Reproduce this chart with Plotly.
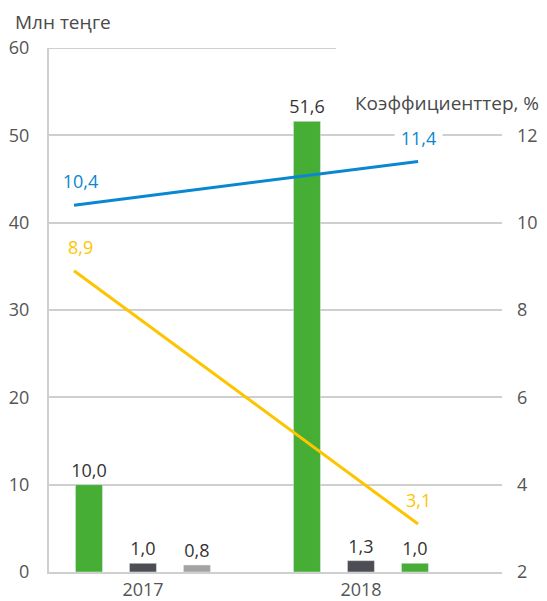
import plotly.graph_objects as go

years = ["2017", "2018"]
bar1 = [10.0, 51.6]
bar2 = [1.0, 1.3]
bar3 = [0.8, 1.0]
blue_line = [10.4, 11.4]
yellow_line = [8.9, 3.1]
left_ticks = [0, 10, 20, 30, 40, 50, 60]
right_ticks = [2, 4, 6, 8, 10, 12]

GREEN = "#46ad35"
DARK = "#4d4e53"
LIGHT = "#a3a3a3"
BLUE = "#0a87d0"
YELLOW = "#fdc500"
GRID = "#cfcfcf"
TICK = "#555555"
FONT = "Open Sans"


def fmt(v):
    return f"{v:.1f}".replace(".", ",")


fig = go.Figure()
common = dict(textposition="outside", constraintext="none", cliponaxis=False,
              textfont=dict(size=18, color="#333333", family=FONT), hoverinfo="skip")
fig.add_trace(go.Bar(x=years, y=bar1, marker_color=GREEN,
                     text=[fmt(v) for v in bar1], **common))
fig.add_trace(go.Bar(x=years, y=bar2, marker_color=DARK,
                     text=[fmt(v) for v in bar2], **common))
fig.add_trace(go.Bar(x=years, y=bar3, marker_color=[LIGHT, GREEN],
                     text=[fmt(v) for v in bar3], **common))

fig.add_trace(go.Scatter(x=years, y=blue_line, mode="lines", xaxis="x2", yaxis="y2",
                         line=dict(color=BLUE, width=3), hoverinfo="skip"))
fig.add_trace(go.Scatter(x=years, y=yellow_line, mode="lines", xaxis="x2", yaxis="y2",
                         line=dict(color=YELLOW, width=3), hoverinfo="skip"))

annotations = []
for i, v in enumerate(blue_line):
    annotations.append(dict(x=i, y=v, xref="x2", yref="y2", text="\u00a0" + fmt(v) + "\u00a0",
                            showarrow=False, yanchor="bottom", yshift=10, xshift=6 if i == 0 else 0,
                            bgcolor="white", borderpad=1,
                            font=dict(size=18, color=BLUE, family=FONT)))
for i, v in enumerate(yellow_line):
    annotations.append(dict(x=i, y=v, xref="x2", yref="y2", text=fmt(v),
                            showarrow=False, yanchor="bottom", yshift=10, xshift=6 if i == 0 else 0,
                            font=dict(size=18, color=YELLOW, family=FONT)))

annotations.append(dict(x=-0.08, y=1.05, xref="paper", yref="paper", text="Млн теңге",
                        showarrow=False, xanchor="left", yanchor="middle",
                        font=dict(size=19, color="#4a4a4a", family=FONT)))
annotations.append(dict(x=1.086, y=0.895, xref="paper", yref="paper", text="Коэффициенттер, %",
                        showarrow=False, xanchor="right", yanchor="middle",
                        font=dict(size=19, color="#4a4a4a", family=FONT)))

fig.update_layout(
    width=539, height=593,
    margin=dict(l=41, r=45, t=40, b=29),
    paper_bgcolor="white", plot_bgcolor="white",
    barmode="group", bargap=0.257, bargroupgap=0.5,
    showlegend=False,
    font=dict(family=FONT, size=17, color=TICK),
    xaxis=dict(type="category", range=[-0.431, 1.647], showgrid=False, showline=True,
               linecolor=GRID, linewidth=2, ticks="", ticklabelstandoff=0,
               tickfont=dict(size=18, color=TICK), fixedrange=True, automargin=False),
    xaxis2=dict(type="category", overlaying="x", range=[-0.0727, 1.244], showgrid=False,
                showline=False, showticklabels=False, ticks="", zeroline=False),
    yaxis=dict(range=[0, 60], tickvals=left_ticks, showgrid=False, zeroline=False,
               showline=True, linecolor=GRID, linewidth=2, ticks="", automargin=False,
               ticklabelstandoff=14, tickfont=dict(size=18, color=TICK)),
    yaxis2=dict(range=[2, 14], tickvals=right_ticks, overlaying="y", side="right",
                showgrid=True, gridcolor=GRID, gridwidth=2, zeroline=False, showline=False,
                ticks="", ticklabelstandoff=14, automargin=False,
                tickfont=dict(size=18, color=TICK)),
    annotations=annotations,
    shapes=[dict(type="line", xref="paper", yref="y", x0=0, x1=0.634, y0=60, y1=60,
                 line=dict(color=GRID, width=2), layer="below")],
)

fig.write_html("out.html")
